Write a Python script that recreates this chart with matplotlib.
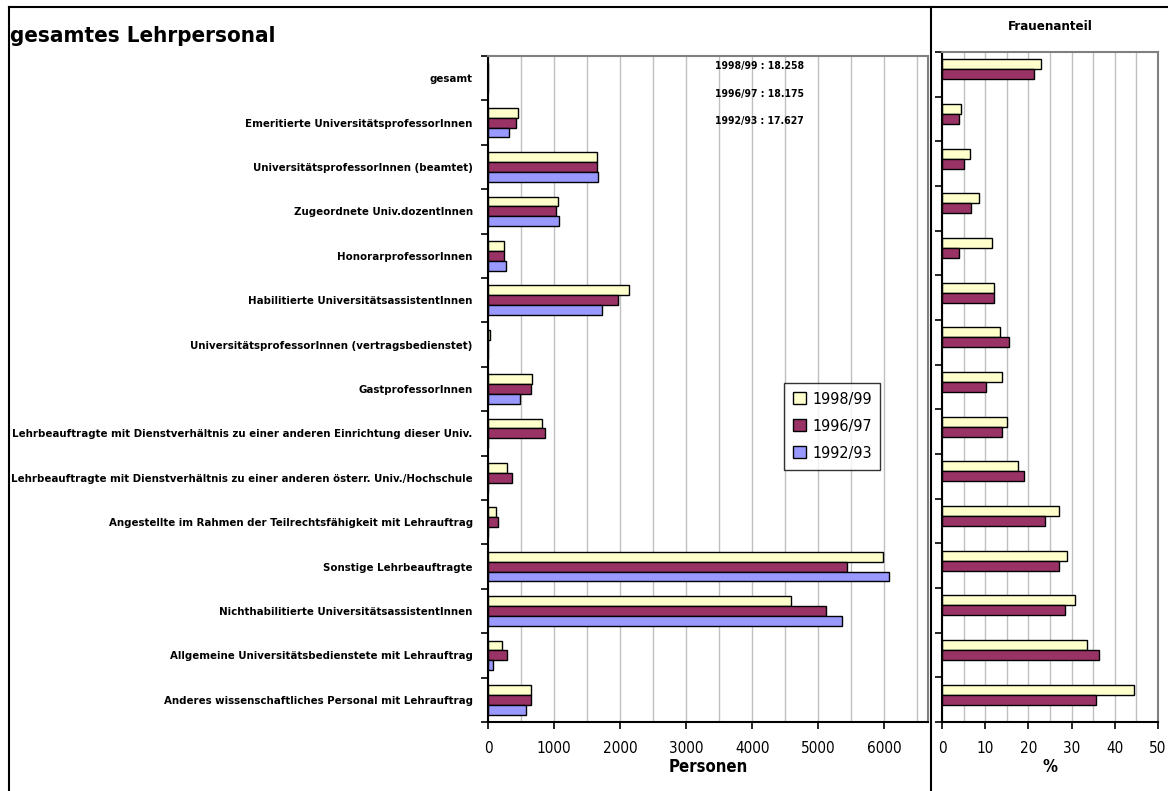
import matplotlib
matplotlib.use('Agg')
import matplotlib.pyplot as plt
from matplotlib.lines import Line2D
from matplotlib.ticker import MultipleLocator
import numpy as np

plt.rcParams['font.family'] = ['DejaVu Sans']
plt.rcParams['font.stretch'] = 'condensed'

# Daten
kategorien = [
    'gesamt',
    'Emeritierte UniversitätsprofessorInnen',
    'UniversitätsprofessorInnen (beamtet)',
    'Zugeordnete Univ.dozentInnen',
    'HonorarprofessorInnen',
    'Habilitierte UniversitätsassistentInnen',
    'UniversitätsprofessorInnen (vertragsbedienstet)',
    'GastprofessorInnen',
    'Lehrbeauftragte mit Dienstverhältnis zu einer anderen Einrichtung dieser Univ.',
    'Lehrbeauftragte mit Dienstverhältnis zu einer anderen österr. Univ./Hochschule',
    'Angestellte im Rahmen der Teilrechtsfähigkeit mit Lehrauftrag',
    'Sonstige Lehrbeauftragte',
    'Nichthabilitierte UniversitätsassistentInnen',
    'Allgemeine Universitätsbedienstete mit Lehrauftrag',
    'Anderes wissenschaftliches Personal mit Lehrauftrag',
]
jahre = ['1998/99', '1996/97', '1992/93']
farben = ['#FFFFCC', '#993366', '#9999FF']

# Personen (gesamt ausserhalb der Skala, daher 0)
personen_9899 = [0, 460, 1657, 1055, 247, 2141, 35, 672, 823, 283, 126, 5975, 4586, 207, 657]
personen_9697 = [0, 420, 1650, 1035, 247, 1965, 0, 657, 869, 364, 152, 5434, 5111, 288, 657]
personen_9293 = [0, 323, 1672, 1081, 268, 1732, 0, 480, 0, 0, 0, 6071, 5359, 71, 581]
gesamt_text = ['1998/99 : 18.258', '1996/97 : 18.175', '1992/93 : 17.627']

# Frauenanteil in %
frauen_9899 = [23.0, 4.4, 6.6, 8.6, 11.5, 12.1, 13.5, 13.8, 15.0, 17.7, 27.2, 28.9, 30.9, 33.6, 44.5]
frauen_9697 = [21.2, 3.9, 5.0, 6.8, 3.9, 12.1, 15.4, 10.1, 13.8, 19.1, 23.9, 27.1, 28.5, 36.3, 35.7]

fig = plt.figure(figsize=(11.68, 7.91), dpi=100)

n = len(kategorien)
y = np.arange(n)
h = 0.222

def stil(ax, xmax, major, minor):
    ax.set_xlim(0, xmax)
    ax.set_ylim(n - 0.5, -0.5)
    ax.xaxis.set_major_locator(MultipleLocator(major))
    ax.xaxis.set_minor_locator(MultipleLocator(minor))
    ax.grid(axis='x', which='both', color='#C0C0C0', linewidth=1)
    ax.set_axisbelow(True)
    ax.tick_params(axis='x', which='minor', length=0)
    ax.tick_params(axis='x', which='major', length=5, width=1.2, labelsize=11, pad=9)
    ax.set_yticks(np.arange(n + 1) - 0.5, minor=True)
    ax.set_yticks([])
    ax.tick_params(axis='y', which='minor', length=5, width=1.2, direction='out')
    for s in ['top', 'right']:
        ax.spines[s].set_color('#808080')
        ax.spines[s].set_linewidth(1.5)
    for s in ['left', 'bottom']:
        ax.spines[s].set_linewidth(1.5)

# Linkes Diagramm: Personen
ax1 = fig.add_axes([0.4178, 0.0872, 0.3767, 0.842])
for i, werte in enumerate([personen_9899, personen_9697, personen_9293]):
    ax1.barh(y + (i - 1) * h, werte, height=h, color=farben[i],
             edgecolor='black', linewidth=1, label=jahre[i])
stil(ax1, 6660, 1000, 500)
ax1.set_yticks(y)
ax1.set_yticklabels(kategorien, fontsize=8.2, fontweight='bold')
ax1.tick_params(axis='y', which='major', length=0, pad=11)
ax1.set_xlabel('Personen', fontsize=12, fontweight='bold', labelpad=1)
for t, yy in zip(gesamt_text, [0.985, 0.943, 0.902]):
    ax1.text(0.516, yy, t, transform=ax1.transAxes,
             fontsize=7.5, fontweight='bold', va='center', ha='left')
leg = ax1.legend(loc='upper left', bbox_to_anchor=(0.673, 0.509), fontsize=11.5,
                 frameon=True, fancybox=False, edgecolor='black', borderaxespad=0,
                 handlelength=0.8, handleheight=0.8, handletextpad=0.4,
                 labelspacing=0.75, borderpad=0.55)
leg.get_frame().set_linewidth(1)

# Rechtes Diagramm: Frauenanteil
ax2 = fig.add_axes([0.8065, 0.0872, 0.1849, 0.8471])
for i, werte in enumerate([frauen_9899, frauen_9697]):
    ax2.barh(y + (i - 1) * h, werte, height=h, color=farben[i],
             edgecolor='black', linewidth=1)
stil(ax2, 50, 10, 5)
ax2.set_xlabel('%', fontsize=12, fontweight='bold', labelpad=1)

fig.text(0.0086, 0.955, 'gesamtes Lehrpersonal', fontsize=16, fontweight='bold',
         ha='left', va='center')
fig.text(0.899, 0.966, 'Frauenanteil', fontsize=9.5, fontweight='bold',
         ha='center', va='center')

# Rahmenlinien
fig.add_artist(Line2D([9 / 1168, 9 / 1168], [0, 1 - 7 / 791], color='black', linewidth=1.5))
fig.add_artist(Line2D([9 / 1168, 1], [1 - 7 / 791, 1 - 7 / 791], color='black', linewidth=1.5))
fig.add_artist(Line2D([931 / 1168, 931 / 1168], [0, 1 - 7 / 791], color='black', linewidth=1.5))

fig.savefig('out.png', dpi=100)
